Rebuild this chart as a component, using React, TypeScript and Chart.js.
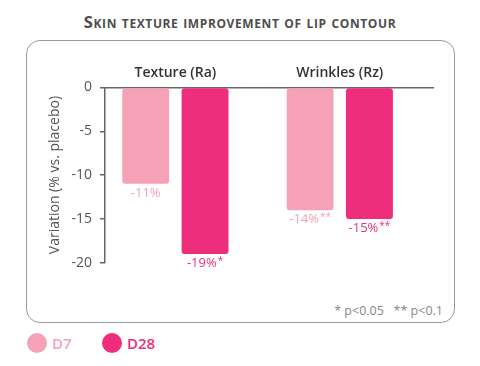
import React, { useEffect, useRef } from "react";
import { Chart, registerables } from "chart.js";

Chart.register(...registerables);

const categories = ["Texture (Ra)", "Wrinkles (Rz)"];
const seriesNames = ["D7", "D28"];
const d7Values = [-11, -14];
const d28Values = [-19, -15];
const d7Marks = ["", "**"];
const d28Marks = ["*", "**"];
const yTicks = [0, -5, -10, -15, -20];
const seriesColors = ["#f5a1b7", "#ee2d7c"];
const labelColors = ["#f4a3b8", "#e9307b"];
const titleText = "Skin texture improvement of lip contour";
const yAxisTitle = "Variation (% vs. placebo)";
const footnote = "* p<0.05   ** p<0.1";

const FONT = "'Open Sans', 'DejaVu Sans', sans-serif";
const seriesValues = [d7Values, d28Values];
const seriesMarks = [d7Marks, d28Marks];

const labelPlugin = {
  id: "barLabels",
  afterDatasetsDraw(chart: any) {
    const ctx = chart.ctx;
    ctx.save();
    seriesValues.forEach((vals, i) => {
      const meta = chart.getDatasetMeta(i);
      meta.data.forEach((bar: any, j: number) => {
        const main = `${vals[j]}%`;
        const mark = seriesMarks[i][j];
        ctx.font = `400 13px ${FONT}`;
        const w1 = ctx.measureText(main).width;
        ctx.font = `400 10px ${FONT}`;
        const w2 = mark ? ctx.measureText(mark).width + 1 : 0;
        const x0 = bar.x - (w1 + w2) / 2;
        const y = bar.y + 3;
        ctx.fillStyle = labelColors[i];
        ctx.textBaseline = "top";
        ctx.textAlign = "left";
        ctx.font = `400 13px ${FONT}`;
        ctx.fillText(main, x0, y);
        if (mark) {
          ctx.font = `400 10px ${FONT}`;
          ctx.fillText(mark, x0 + w1 + 1, y - 1);
        }
      });
    });
    ctx.restore();
  },
};

export default function App() {
  const canvasRef = useRef<HTMLCanvasElement | null>(null);

  useEffect(() => {
    const canvas = canvasRef.current;
    if (!canvas) return;
    const datasets = seriesValues.map((vals, i) => ({
      label: seriesNames[i],
      data: vals.map((v, j) => ({ x: j, y: v })),
      backgroundColor: seriesColors[i],
      borderRadius: 3,
      borderSkipped: false,
      categoryPercentage: 0.722,
      barPercentage: 0.79,
    }));
    const chart = new Chart(canvas, {
      type: "bar",
      data: { datasets },
      options: {
        animation: false,
        responsive: false,
        events: [],
        layout: { padding: { left: 43, right: 47, top: 57.5, bottom: 103.3 } },
        plugins: {
          legend: { display: false },
          tooltip: { enabled: false },
          title: { display: false },
        },
        scales: {
          x: {
            type: "linear",
            position: "top",
            offset: false,
            min: -0.428,
            max: 1.567,
            afterBuildTicks: (s: any) => {
              s.ticks = categories.map((_, i) => ({ value: i }));
            },
            afterFit: (s: any) => {
              s.height = 30;
            },
            ticks: {
              callback: (v: any) => categories[v] ?? "",
              font: { family: FONT, size: 14, weight: "600" },
              color: "#333",
              padding: 6,
              maxRotation: 0,
              autoSkip: false,
            },
            grid: { display: false, drawTicks: false, offset: false },
            border: { display: true, color: "#666", width: 1.5 },
          },
          y: {
            min: -20,
            max: 0,
            afterBuildTicks: (s: any) => {
              s.ticks = yTicks.map((v) => ({ value: v }));
            },
            afterFit: (s: any) => {
              s.width = 62;
            },
            ticks: {
              font: { family: FONT, size: 14 },
              color: "#555",
              padding: 8,
            },
            grid: {
              drawOnChartArea: false,
              drawTicks: true,
              tickLength: 5,
              color: "#666",
              lineWidth: 1.5,
            },
            border: { display: true, color: "#666", width: 1.5 },
            title: {
              display: true,
              text: yAxisTitle,
              font: { family: FONT, size: 14 },
              color: "#555",
            },
          },
        },
      },
      plugins: [labelPlugin],
    } as any);
    return () => chart.destroy();
  }, []);

  return (
    <div
      style={{
        position: "absolute",
        left: 0,
        top: 0,
        width: 480,
        height: 366,
        background: "#fff",
        fontFamily: FONT,
        overflow: "hidden",
      }}
    >
      <div
        style={{
          position: "absolute",
          top: 10,
          left: 0,
          width: 480,
          textAlign: "center",
          fontVariant: "small-caps",
          fontWeight: 700,
          fontSize: 16.5,
          color: "#4d4d4d",
          letterSpacing: 0.6,
        }}
      >
        {titleText}
      </div>
      <div
        style={{
          position: "absolute",
          left: 26,
          top: 40,
          width: 429,
          height: 283,
          boxSizing: "border-box",
          border: "1.5px solid #9a9a9a",
          borderRadius: 14,
        }}
      />
      <div
        style={{
          position: "absolute",
          right: 37,
          top: 302,
          fontSize: 12.5,
          color: "#8a8a8a",
          whiteSpace: "pre",
        }}
      >
        {footnote}
      </div>
      {seriesNames.map((name, i) => (
        <div
          key={name}
          style={{
            position: "absolute",
            left: 27 + i * 75,
            top: 333,
            display: "flex",
            alignItems: "center",
            gap: 5,
          }}
        >
          <span
            style={{
              width: 20,
              height: 20,
              borderRadius: "50%",
              background: seriesColors[i],
              display: "inline-block",
            }}
          />
          <span style={{ color: labelColors[i], fontSize: 15, fontWeight: 600 }}>
            {name}
          </span>
        </div>
      ))}
      <canvas
        ref={canvasRef}
        width={480}
        height={366}
        style={{ position: "absolute", left: 0, top: 0, display: "block" }}
      />
    </div>
  );
}
